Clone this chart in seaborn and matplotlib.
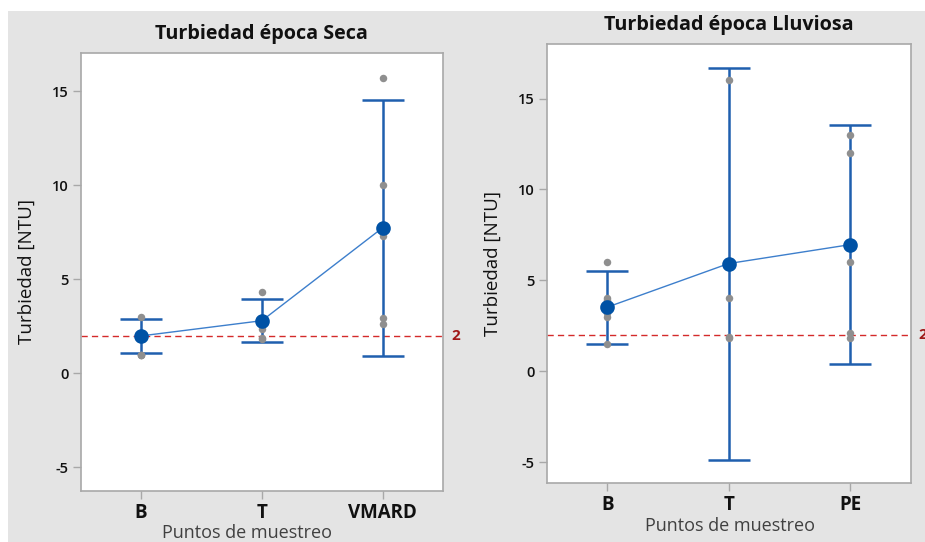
import numpy as np
import pandas as pd
import matplotlib
matplotlib.use("Agg")
import matplotlib.pyplot as plt
from matplotlib.patches import Rectangle
import matplotlib.transforms as mtransforms
import seaborn as sns

# Sampling points for each season
seca_sites = ["B", "T", "VMARD"]
lluviosa_sites = ["B", "T", "PE"]

# Individual turbidity readings (NTU), dry season
seca_B = [3.0, 2.0, 1.0, 1.0, 0.95]
seca_T = [4.3, 2.55, 2.35, 1.9, 1.8]
seca_VMARD = [15.7, 10.0, 7.3, 2.95, 2.6]

# Individual turbidity readings (NTU), rainy season
lluviosa_B = [6.0, 4.0, 3.9, 3.2, 3.0, 1.5]
lluviosa_T = [16.0, 4.0, 1.9, 1.8]
lluviosa_PE = [13.0, 12.0, 6.0, 2.1, 1.8]

# Means and 95% confidence intervals per sampling point
seca_mean = [1.99, 2.80, 7.75]
seca_ci_low = [1.10, 1.66, 0.94]
seca_ci_high = [2.88, 3.95, 14.54]

lluviosa_mean = [3.52, 5.92, 6.96]
lluviosa_ci_low = [1.50, -4.88, 0.40]
lluviosa_ci_high = [5.52, 16.70, 13.56]

# Reference limit (NTU)
limite = 2
yticks = [-5, 0, 5, 10, 15]

sns.set_theme(style="white")
plt.rcParams["font.family"] = ["Open Sans", "DejaVu Sans"]

BLUE_BAR = "#1f5fae"
BLUE_MEAN = "#0052a5"
BLUE_LINE = "#3d7fcc"
GRAY_DOT = "#8f8f8f"
SPINE = "#a8a8a8"
PANEL_BG = "#e4e4e4"

fig = plt.figure(figsize=(9.25, 5.42), dpi=100, facecolor="white")
fig.patches.append(Rectangle((8 / 925, 0), 1, 1 - 10.7 / 542,
                             transform=fig.transFigure, facecolor=PANEL_BG,
                             edgecolor="none", zorder=-10))

ax1 = fig.add_axes([80.5 / 925, 1 - 490.7 / 542, 362.8 / 925, 438.0 / 542])
ax2 = fig.add_axes([546.5 / 925, 1 - 483.3 / 542, 364.2 / 925, 439.3 / 542])


def draw_panel(ax, sites, obs, mean, lo, hi, title, ylim, xlabel_x):
    pts = pd.DataFrame({
        "sitio": np.repeat(sites, [len(o) for o in obs]),
        "turbiedad": np.concatenate(obs),
    })
    means = pd.DataFrame({"sitio": sites, "media": mean})
    pos = np.arange(len(sites))
    mean_arr = np.asarray(mean)

    ax.set_facecolor("white")
    # confidence intervals
    ax.errorbar(pos, mean_arr,
                yerr=[mean_arr - np.asarray(lo), np.asarray(hi) - mean_arr],
                fmt="none", ecolor=BLUE_BAR, elinewidth=1.8, capsize=15,
                capthick=1.8, zorder=2)
    # individual readings
    sns.stripplot(data=pts, x="sitio", y="turbiedad", order=sites,
                  jitter=False, color=GRAY_DOT, size=5.4, linewidth=0,
                  ax=ax, zorder=3)
    # line joining the means
    ax.plot(pos, mean_arr, color=BLUE_LINE, lw=1.0, zorder=4)
    # mean markers
    sns.pointplot(data=means, x="sitio", y="media", order=sites,
                  color=BLUE_MEAN, markers="o", markersize=8.5,
                  linestyle="none", errorbar=None, ax=ax)
    ax.lines[-1].set_zorder(5)

    # reference limit
    ax.axhline(limite, color="#d42a2a", lw=1.0, dashes=(4.5, 3), zorder=1)
    trans = mtransforms.blended_transform_factory(ax.transAxes, ax.transData)
    ax.text(1.022, limite, str(limite), transform=trans, ha="left",
            va="center", color="#a01818", fontsize=11, fontweight="bold",
            clip_on=False)

    ax.set_xlim(-0.5, len(sites) - 0.5)
    ax.set_ylim(*ylim)
    ax.set_yticks(yticks)
    ax.set_yticklabels([str(t) for t in yticks], fontweight="semibold")
    ax.set_xticks(pos)
    ax.set_xticklabels(sites, fontsize=13.5, fontweight="bold", color="#111111")
    ax.tick_params(axis="y", labelsize=10.5, labelcolor="#111111", length=5.5,
                   width=1, color=SPINE, pad=3, left=True, direction="out")
    ax.tick_params(axis="x", length=5.5, width=1, color=SPINE, pad=3,
                   bottom=True, direction="out")
    for sp in ax.spines.values():
        sp.set_color(SPINE)
        sp.set_linewidth(1.2)
        sp.set_visible(True)

    ax.set_title(title, fontsize=14.2, fontweight="bold", color="#111111", pad=10)
    ax.set_ylabel("Turbiedad [NTU]", fontsize=13.5, color="#111111")
    ax.set_xlabel("Puntos de muestreo", fontsize=13, color="#404040")
    ax.yaxis.set_label_coords(-0.122, 0.5)
    ax.xaxis.set_label_coords(xlabel_x, -0.076)


draw_panel(ax1, seca_sites, [seca_B, seca_T, seca_VMARD],
           seca_mean, seca_ci_low, seca_ci_high,
           "Turbiedad época Seca", (-6.24, 17.05), 0.46)
draw_panel(ax2, lluviosa_sites, [lluviosa_B, lluviosa_T, lluviosa_PE],
           lluviosa_mean, lluviosa_ci_low, lluviosa_ci_high,
           "Turbiedad época Lluviosa", (-6.17, 18.0), 0.505)

fig.savefig("out.png", dpi=100, facecolor=fig.get_facecolor())
